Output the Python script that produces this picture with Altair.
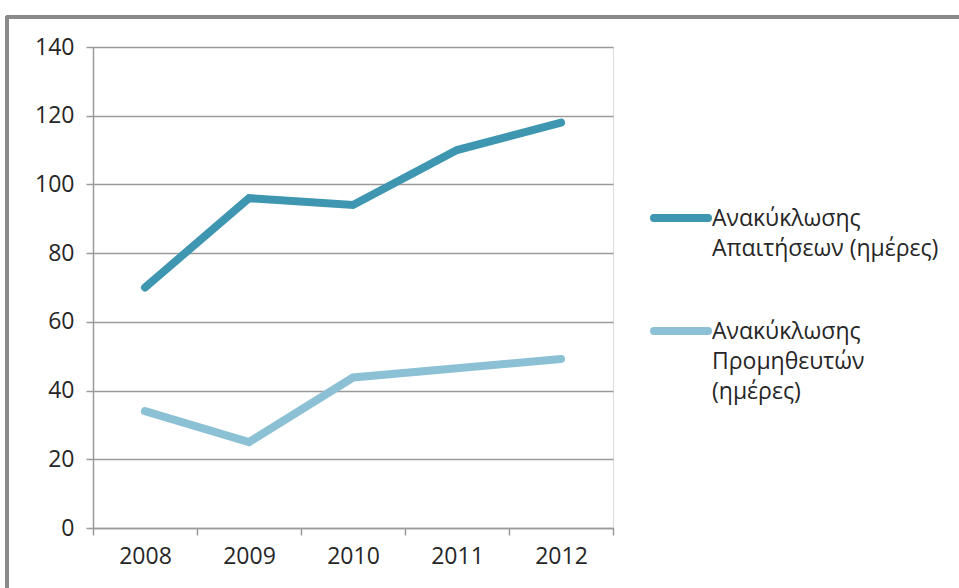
import altair as alt
import pandas as pd

years = ["2008", "2009", "2010", "2011", "2012"]
series_a = "Ανακύκλωσης Απαιτήσεων (ημέρες)"
series_b = "Ανακύκλωσης Προμηθευτών (ημέρες)"
values_a = [70, 96, 94, 110, 118]
values_b = [34, 25, 43.8, 46.5, 49.2]
y_ticks = [0, 20, 40, 60, 80, 100, 120, 140]
legend_lines_a = ["Ανακύκλωσης", "Απαιτήσεων (ημέρες)"]
legend_lines_b = ["Ανακύκλωσης", "Προμηθευτών", "(ημέρες)"]

df = pd.DataFrame({
    "year": years * 2,
    "value": values_a + values_b,
    "series": [series_a] * len(years) + [series_b] * len(years),
})

FONT = "Open Sans"
TEXT = "#262626"
GRID = "#9a9a9a"

color_scale = alt.Scale(domain=[series_a, series_b], range=["#3E96B0", "#8CC0D4"])

lines = alt.Chart(df).mark_line(strokeWidth=8, strokeCap="round", strokeJoin="miter").encode(
    x=alt.X("year:O", title=None, scale=alt.Scale(type="band", paddingInner=0, paddingOuter=0),
            axis=alt.Axis(labelAngle=0, tickBand="extent", domainColor=GRID, tickColor=GRID,
                          domainWidth=1.5, tickWidth=1.5, tickSize=7, labelPadding=10,
                          labelFontSize=23, labelFont=FONT, labelColor=TEXT, grid=False)),
    y=alt.Y("value:Q", title=None, scale=alt.Scale(domain=[0, 140], nice=False),
            axis=alt.Axis(values=y_ticks, domainColor=GRID, tickColor=GRID, gridColor=GRID,
                          gridWidth=1.5, domainWidth=1.5, tickWidth=1.5, tickSize=7,
                          labelPadding=12, labelFontSize=23, labelFont=FONT, labelColor=TEXT)),
    color=alt.Color("series:N", scale=color_scale, legend=None),
)

def legend_entry(series, text_lines, y_px):
    src = pd.DataFrame({"series": [series]})
    sym = alt.Chart(src).mark_rule(strokeWidth=8, strokeCap="round").encode(
        x=alt.value(561), x2=alt.value(615), y=alt.value(y_px),
        color=alt.Color("series:N", scale=color_scale, legend=None),
    )
    txt = alt.Chart(src).mark_text(
        text=text_lines, align="left", baseline="alphabetic", dy=8, lineHeight=30,
        font=FONT, fontSize=23, color=TEXT,
    ).encode(x=alt.value(619), y=alt.value(y_px))
    return sym + txt

leg_a = legend_entry(series_a, legend_lines_a, 171)
leg_b = legend_entry(series_b, legend_lines_b, 284)

border = alt.Chart(df).mark_rule(color="#8a8a8a", strokeWidth=3).encode(
    x=alt.value(-87), x2=alt.value(870), y=alt.value(-30)
)
border_left = alt.Chart(df).mark_rule(color="#8a8a8a", strokeWidth=3).encode(
    x=alt.value(-86), y=alt.value(-31), y2=alt.value(560)
)

chart = alt.layer(border, border_left, lines, leg_a, leg_b).properties(
    width=520, height=481,
    padding={"left": 93, "top": 47, "right": 346, "bottom": 60},
    autosize=alt.AutoSizeParams(type="none"),
).configure_view(fill="#E8F0F4", stroke=None).configure(background="white")

chart.save("out.html", embed_options={"renderer": "svg", "actions": False})
